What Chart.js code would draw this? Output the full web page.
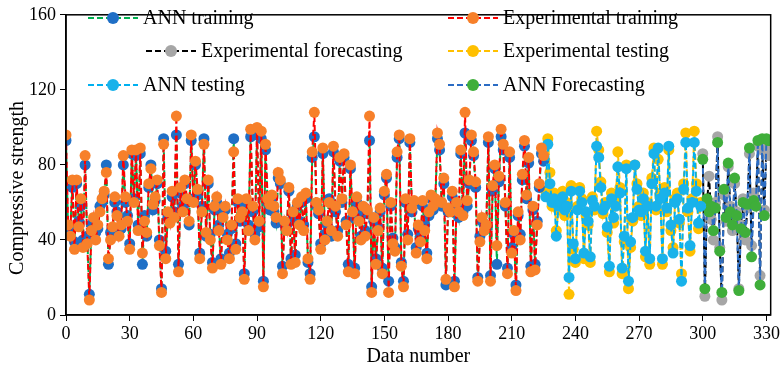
<!DOCTYPE html>
<html>
<head>
<meta charset="utf-8">
<script src="https://cdn.jsdelivr.net/npm/chart.js@4.4.0/dist/chart.umd.min.js"></script>
<style>
  html, body { margin: 0; padding: 0; background: #fff; }
  #wrap { width: 782px; height: 371px; }
</style>
</head>
<body>
<div id="wrap"><canvas id="chart" width="782" height="371"></canvas></div>
<script>
// Start index of each part on the "Data number" axis
const trainStart = 0;
const testStart = 226;
const forecastStart = 300;

const xTicks = [0, 30, 60, 90, 120, 150, 180, 210, 240, 270, 300, 330];
const yTicks = [0, 40, 80, 120, 160];

const expTraining = [
  96, 48, 42, 72, 35, 72, 47, 62, 36, 85, 38, 8, 45, 52, 40, 48, 55, 62, 66, 76, 30, 40, 47, 63, 53, 42,
  48, 85, 63, 50, 35, 88, 60, 88, 45, 89, 33, 50, 44, 70, 78, 59, 63, 72, 37, 12, 91, 30, 55, 49, 66, 52, 106, 23, 68,
  55, 72, 62, 50, 96, 60, 82, 67, 30, 55, 91, 44, 72, 40, 25, 58, 63, 45, 27, 52, 58, 40, 30, 48, 87, 35, 62, 52,
  55, 19, 62, 45, 99, 58, 40, 100, 50, 98, 15, 91, 62, 59, 64, 58, 52, 76, 72, 22, 50, 45, 68, 27, 55, 28, 60, 48, 63,
  45, 65, 30, 19, 87, 108, 60, 56, 35, 89, 40, 50, 60, 45, 90, 58, 42, 84, 62, 86, 48, 23, 80, 55, 22, 63, 50, 40, 58,
  42, 56, 106, 12, 52, 27, 45, 57, 22, 66, 75, 12, 60, 38, 34, 87, 96, 26, 15, 62, 40, 94, 57, 61, 33, 48, 39, 61,
  45, 30, 55, 64, 58, 62, 97, 91, 60, 73, 19, 57, 55, 66, 15, 60, 55, 88, 53, 108, 61, 72, 96, 87, 71, 18, 39, 52, 45,
  48, 95, 18, 69, 80, 37, 74, 99, 91, 60, 22, 87, 33, 45, 13, 55, 40, 75, 93, 64, 84, 23, 58, 24, 48, 70, 89, 85
];
const annTraining = [
  93, 44, 46, 68, 39, 70, 50, 58, 40, 80, 42, 11, 48, 50, 44, 46, 58, 60, 64, 80, 27, 44, 45, 60, 55, 45,
  46, 80, 60, 53, 38, 86, 62, 85, 48, 86, 27, 53, 42, 68, 80, 56, 61, 70, 40, 14, 94, 34, 52, 51, 63, 55, 96, 27, 65,
  58, 70, 60, 48, 93, 62, 80, 64, 33, 58, 94, 42, 70, 43, 28, 56, 60, 48, 30, 55, 56, 43, 33, 46, 94, 38, 60, 50,
  58, 22, 60, 48, 95, 55, 43, 96, 47, 94, 18, 88, 60, 56, 62, 55, 49, 73, 70, 26, 48, 48, 66, 30, 52, 32, 58, 50, 60,
  48, 62, 28, 22, 84, 95, 58, 54, 38, 86, 43, 48, 62, 42, 87, 55, 45, 82, 60, 84, 50, 27, 78, 52, 25, 60, 52, 42, 56,
  45, 54, 93, 15, 50, 30, 47, 55, 25, 64, 73, 18, 58, 41, 36, 84, 94, 28, 18, 60, 43, 92, 55, 59, 36, 46, 42, 58,
  48, 33, 53, 62, 56, 60, 94, 88, 58, 70, 16, 55, 57, 63, 18, 58, 52, 86, 55, 97, 58, 70, 93, 85, 68, 20, 42, 50, 48,
  46, 92, 21, 66, 78, 27, 71, 95, 88, 58, 25, 84, 36, 43, 16, 53, 43, 72, 90, 62, 81, 26, 56, 27, 50, 68, 86, 82
];
const expTesting = [
  66, 94, 76, 58, 65, 45, 56, 61, 66, 53, 60, 11, 69, 35, 28, 58, 68, 62, 30, 53, 48, 28, 63, 56,
  98, 88, 71, 54, 60, 44, 23, 65, 49, 60, 87, 68, 22, 39, 80, 14, 36, 50, 80, 70, 58, 53, 65, 31, 60, 27,
  73, 89, 56, 83, 65, 27, 68, 55, 88, 45, 36, 62, 65, 49, 22, 70, 97, 55, 34, 62, 98, 70, 46, 60
];
const annTesting = [
  63, 91, 70, 60, 62, 42, 58, 60, 63, 56, 58, 20, 66, 38, 30, 56, 66, 60, 33, 55, 50, 31, 61, 58,
  90, 84, 68, 56, 58, 47, 26, 62, 52, 58, 79, 65, 25, 42, 78, 18, 39, 52, 80, 67, 56, 55, 62, 34, 58, 30,
  70, 86, 58, 89, 62, 30, 65, 57, 90, 48, 33, 60, 62, 51, 18, 67, 92, 57, 37, 60, 92, 66, 49, 58
];
const expForecasting = [
  86, 10, 60, 74, 51, 40, 60, 95, 36, 8, 64, 50, 79, 58, 45, 70,
  55, 14, 48, 62, 40, 57, 86, 37, 65, 59, 90, 21, 88, 56, 90, 85
];
const annForecasting = [
  83, 14, 62, 55, 58, 45, 57, 92, 34, 12, 67, 52, 81, 55, 48, 73,
  53, 13, 46, 60, 44, 59, 89, 31, 61, 58, 93, 16, 94, 53, 94, 93
];

const FONT = "'Liberation Serif', 'Times New Roman', serif";

function toPoints(start, values) {
  return values.map((v, i) => ({ x: start + i, y: v }));
}

function series(label, start, values, lineColor, pointColor, order) {
  return {
    label,
    data: toPoints(start, values),
    showLine: true,
    borderColor: lineColor,
    borderWidth: 2,
    borderDash: [6, 3],
    pointBackgroundColor: pointColor,
    pointBorderWidth: 0,
    pointRadius: 5.5,
    pointHoverRadius: 5.5,
    order,
    _point: pointColor,
  };
}

const datasets = [
  series('ANN training', trainStart, annTraining, '#00b050', '#1f6fc6', 2),
  series('Experimental training', trainStart, expTraining, '#ff0000', '#f7802a', 1),
  series('Experimental forecasting', forecastStart, expForecasting, '#000000', '#a6a6a6', 2),
  series('Experimental testing', testStart, expTesting, '#ffc000', '#ffc000', 2),
  series('ANN testing', testStart, annTesting, '#00b0f0', '#19b2ea', 1),
  series('ANN Forecasting', forecastStart, annForecasting, '#2b6cc4', '#3fae3a', 1),
];

// where each legend entry sits (left end of its sample line, centre line)
const legendSpots = {
  'ANN training': [88, 18],
  'Experimental training': [448, 18],
  'Experimental forecasting': [146, 51],
  'Experimental testing': [448, 51],
  'ANN testing': [88, 85],
  'ANN Forecasting': [448, 85],
};

const frameAndLegend = {
  id: 'frameAndLegend',
  afterDraw(chart) {
    const { ctx, chartArea: a } = chart;
    ctx.save();
    ctx.strokeStyle = '#000';
    ctx.lineWidth = 1.5;
    ctx.strokeRect(a.left, a.top, a.right - a.left, a.bottom - a.top);

    ctx.font = `20px ${FONT}`;
    ctx.textBaseline = 'middle';
    chart.data.datasets.forEach(ds => {
      const [x, y] = legendSpots[ds.label];
      ctx.setLineDash([6, 3]);
      ctx.lineWidth = 2;
      ctx.strokeStyle = ds.borderColor;
      ctx.beginPath();
      ctx.moveTo(x, y);
      ctx.lineTo(x + 50, y);
      ctx.stroke();
      ctx.setLineDash([]);
      ctx.fillStyle = ds._point;
      ctx.beginPath();
      ctx.arc(x + 25, y, 6, 0, Math.PI * 2);
      ctx.fill();
      ctx.fillStyle = '#000';
      ctx.fillText(ds.label, x + 55, y + 1);
    });

    // y axis title sits a bit below the middle of the plot, as in the source
    ctx.translate(18, 188);
    ctx.rotate(-Math.PI / 2);
    ctx.textAlign = 'center';
    ctx.fillText('Compressive strength', 0, 0);
    ctx.restore();
  }
};

const axisGrid = {
  display: true,
  drawOnChartArea: false,
  drawTicks: true,
  tickLength: 6,
  color: '#000',
  lineWidth: 1,
};

new Chart(document.getElementById('chart'), {
  type: 'scatter',
  data: { datasets },
  options: {
    responsive: false,
    animation: false,
    devicePixelRatio: 1,
    layout: { padding: { top: 6, right: 11, left: 0, bottom: 0 } },
    plugins: { legend: { display: false }, tooltip: { enabled: false } },
    scales: {
      x: {
        type: 'linear',
        min: 0,
        max: 332,
        afterBuildTicks(s) { s.ticks = xTicks.map(v => ({ value: v })); },
        afterFit(s) { s.height = 56; },
        ticks: { color: '#000', font: { family: FONT, size: 18 }, padding: 2, maxRotation: 0 },
        grid: axisGrid,
        border: { display: true, color: '#000', width: 1.5 },
        title: { display: true, text: 'Data number', color: '#000', font: { family: FONT, size: 20 }, padding: { top: 0, bottom: 2 } },
      },
      y: {
        min: 0,
        max: 160,
        afterBuildTicks(s) { s.ticks = yTicks.map(v => ({ value: v })); },
        afterFit(s) { s.width = 66; },
        ticks: { color: '#000', font: { family: FONT, size: 18 }, padding: 4 },
        grid: axisGrid,
        border: { display: true, color: '#000', width: 1.5 },
        title: { display: false },
      },
    },
  },
  plugins: [frameAndLegend],
});
</script>
</body>
</html>
